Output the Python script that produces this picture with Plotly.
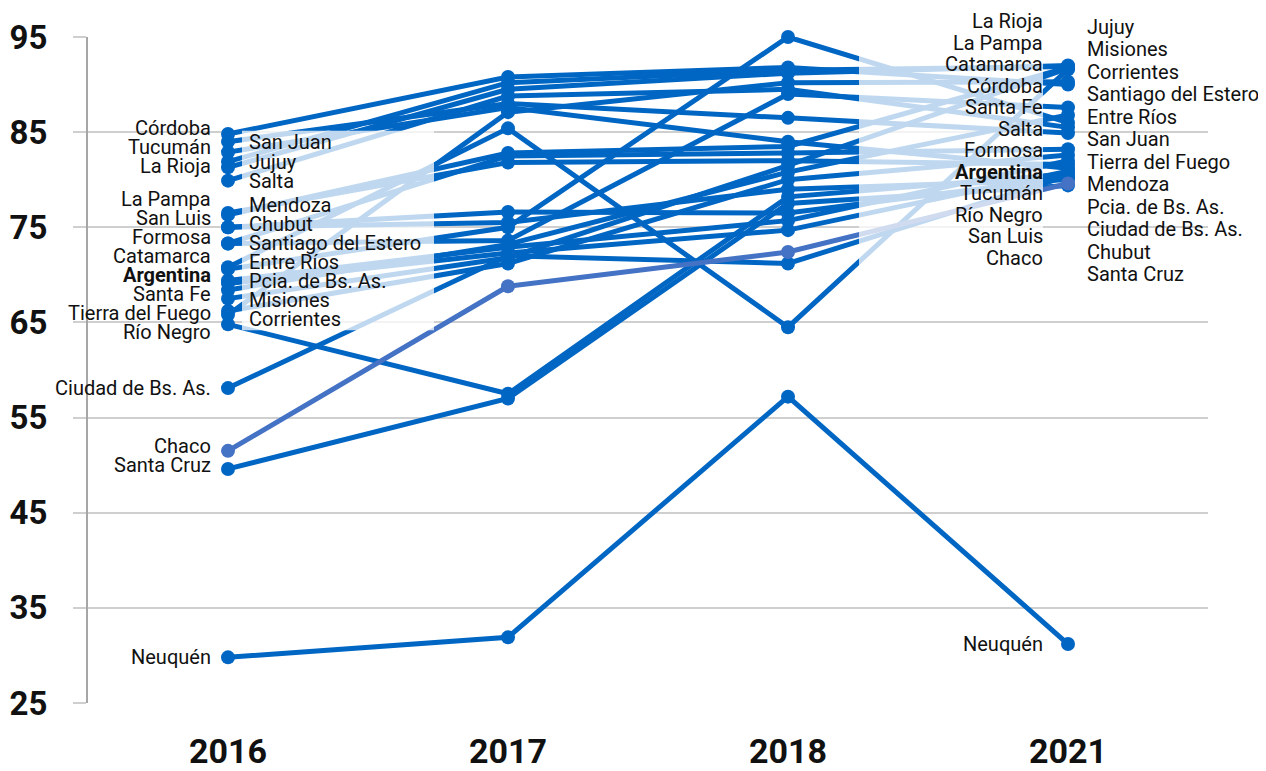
import plotly.graph_objects as go

years = ["2016", "2017", "2018", "2021"]

regions = ["Córdoba", "San Juan", "Tucumán", "Jujuy", "La Rioja", "Salta",
           "La Pampa", "Mendoza", "San Luis", "Chubut", "Formosa",
           "Santiago del Estero", "Catamarca", "Entre Ríos", "Argentina",
           "Pcia. de Bs. As.", "Santa Fe", "Misiones", "Tierra del Fuego",
           "Corrientes", "Río Negro", "Ciudad de Bs. As.", "Chaco",
           "Santa Cruz", "Neuquén"]

val_2016 = [84.8, 84.0, 82.9, 81.9, 81.3, 79.9, 76.3, 76.5, 75.0, 75.0, 73.3,
            73.3, 70.8, 70.6, 69.4, 69.1, 68.4, 67.5, 66.2, 65.8, 64.8, 58.1,
            51.5, 49.6, 29.8]
val_2017 = [90.8, 88.0, 87.6, 90.2, 89.5, 88.8, 82.8, 81.8, 76.6, 75.5, 82.5,
            73.6, 85.4, 75.0, 72.9, 72.3, 73.2, 71.8, 71.2, 87.1, 57.5, 72.0,
            68.8, 57.0, 31.9]
val_2018 = [91.8, 86.5, 84.0, 91.5, 91.2, 89.5, 83.5, 82.0, 76.5, 79.0, 82.8,
            89.0, 64.5, 95.0, 75.7, 74.7, 80.8, 81.5, 80.0, 90.2, 78.2, 71.2,
            72.4, 77.5, 57.2]
val_2021 = [90.0, 84.9, 81.2, 91.9, 92.0, 85.5, 91.8, 81.6, 80.2, 80.0, 83.2,
            87.6, 91.6, 86.0, 82.0, 80.9, 86.8, 91.7, 82.6, 90.3, 80.6, 80.4,
            79.6, 79.4, 31.2]

y_ticks = [25, 35, 45, 55, 65, 75, 85, 95]

# label columns placed to the inner side of the first / last year
right_of_2016 = {"San Juan", "Jujuy", "Salta", "Mendoza", "Chubut",
                 "Santiago del Estero", "Entre Ríos", "Pcia. de Bs. As.",
                 "Misiones", "Corrientes"}
right_of_2021 = {"Jujuy", "Misiones", "Corrientes", "Santiago del Estero",
                 "Entre Ríos", "San Juan", "Tierra del Fuego", "Mendoza",
                 "Pcia. de Bs. As.", "Ciudad de Bs. As.", "Chubut", "Santa Cruz"}

DARK = "#0066C4"
CHACO = "#4472C4"
FONT = "Roboto, 'Open Sans', sans-serif"
LABEL_SIZE = 20

# page body has an 8px margin, so the figure is 16px smaller than the window
W, H = 1258, 763
M = dict(l=80, r=58, t=29, b=68)
YR = (25, 95)
px_per_unit = (H - M["t"] - M["b"]) / (YR[1] - YR[0])


def spread(names, vals, gap):
    """1-D label repel: keeps labels at least `gap` (data units) apart."""
    order = sorted(range(len(vals)), key=lambda i: -vals[i])
    clusters = []
    for i in order:
        clusters.append({"t": [-vals[i]], "s": -vals[i]})
        while len(clusters) > 1:
            a, b = clusters[-2], clusters[-1]
            if a["s"] + len(a["t"]) * gap > b["s"]:
                m = a["t"] + b["t"]
                s = sum(m[k] - k * gap for k in range(len(m))) / len(m)
                clusters[-2:] = [{"t": m, "s": s}]
            else:
                break
    out = []
    idx = 0
    for c in clusters:
        for k in range(len(c["t"])):
            out.append((names[order[idx]], -(c["s"] + k * gap), len(c["t"])))
            idx += 1
    return out


fig = go.Figure()

series = list(zip(val_2016, val_2017, val_2018, val_2021))
draw_order = [i for i in range(len(regions)) if regions[i] != "Chaco"] + \
             [regions.index("Chaco")]
for i in draw_order:
    col = CHACO if regions[i] == "Chaco" else DARK
    fig.add_trace(go.Scatter(
        x=years, y=list(series[i]), mode="lines+markers", name=regions[i],
        line=dict(color=col, width=5), marker=dict(color=col, size=14),
        cliponaxis=False, showlegend=False, hoverinfo="name+y"))

annotations = []
shapes = []


def add_column(year, names, vals, gap_px, side, xshift, nudge_px, box):
    gap = gap_px / px_per_unit
    placed = spread(names, vals, gap)
    xi = years.index(year)
    ys = []
    for n, p, size in placed:
        if size > 1:
            p -= nudge_px / px_per_unit
        ys.append(p)
        y_in = min(max(p, YR[0]), YR[1])
        txt = "<b>%s</b>" % n if n == "Argentina" else n
        annotations.append(dict(
            x=xi, y=y_in, yshift=(p - y_in) * px_per_unit,
            xref="x", yref="y", text=txt, showarrow=False,
            xanchor=side, yanchor="middle", xshift=xshift, borderpad=0,
            font=dict(family=FONT, size=LABEL_SIZE, color="#111111")))
    if box:
        # translucent backdrop behind the main stack of labels
        groups, cur = [], [ys[0]]
        for p in ys[1:]:
            if cur[-1] - p <= 1.6 * gap:
                cur.append(p)
            else:
                groups.append(cur)
                cur = [p]
        groups.append(cur)
        g = max(groups, key=len)
        top = g[0] + gap / 2 + 1.5 / px_per_unit
        bot = g[-1] - gap / 2 - 1.5 / px_per_unit
        shapes.append(dict(
            type="rect", layer="above", xref="x", yref="y",
            xsizemode="pixel", xanchor=xi,
            x0=box[0], x1=box[1], y0=bot, y1=top,
            fillcolor="white", opacity=0.75, line=dict(width=0)))


first = dict(zip(regions, val_2016))
last = dict(zip(regions, val_2021))

l16 = [n for n in regions if n not in right_of_2016]
r16 = [n for n in regions if n in right_of_2016]
add_column("2016", l16, [first[n] for n in l16], 19, "right", -16, -4, None)
add_column("2016", r16, [first[n] for n in r16], 19, "left", 20, -2, (14, 206))

l21 = [n for n in regions if n not in right_of_2021]
r21 = [n for n in regions if n in right_of_2021]
add_column("2021", l21, [last[n] for n in l21], 21.5, "right", -24, 11, (-209, -25))
add_column("2021", r21, [last[n] for n in r21], 22.5, "left", 18, 16, None)

fig.update_layout(
    width=W, height=H, margin=M, autosize=False,
    paper_bgcolor="white", plot_bgcolor="white",
    annotations=annotations, shapes=shapes,
    font=dict(family=FONT, color="#111111"),
)
fig.update_xaxes(
    type="category", categoryorder="array", categoryarray=years,
    range=[-0.5, 3.5], showgrid=False, showline=False, zeroline=False,
    ticks="", ticklabelstandoff=25, automargin=False,
    tickfont=dict(family=FONT, size=34, color="#111111", weight="bold"))
fig.update_yaxes(
    range=list(YR), tickvals=y_ticks, showgrid=True, gridcolor="#cfcfcf",
    gridwidth=2, showline=True, linecolor="#a6a6a6", linewidth=2,
    ticks="outside", ticklen=13, tickwidth=2, tickcolor="#cfcfcf",
    zeroline=False, ticklabelstandoff=19, automargin=False,
    tickfont=dict(family=FONT, size=33, color="#111111", weight="bold"))

fig.write_html("out.html")
